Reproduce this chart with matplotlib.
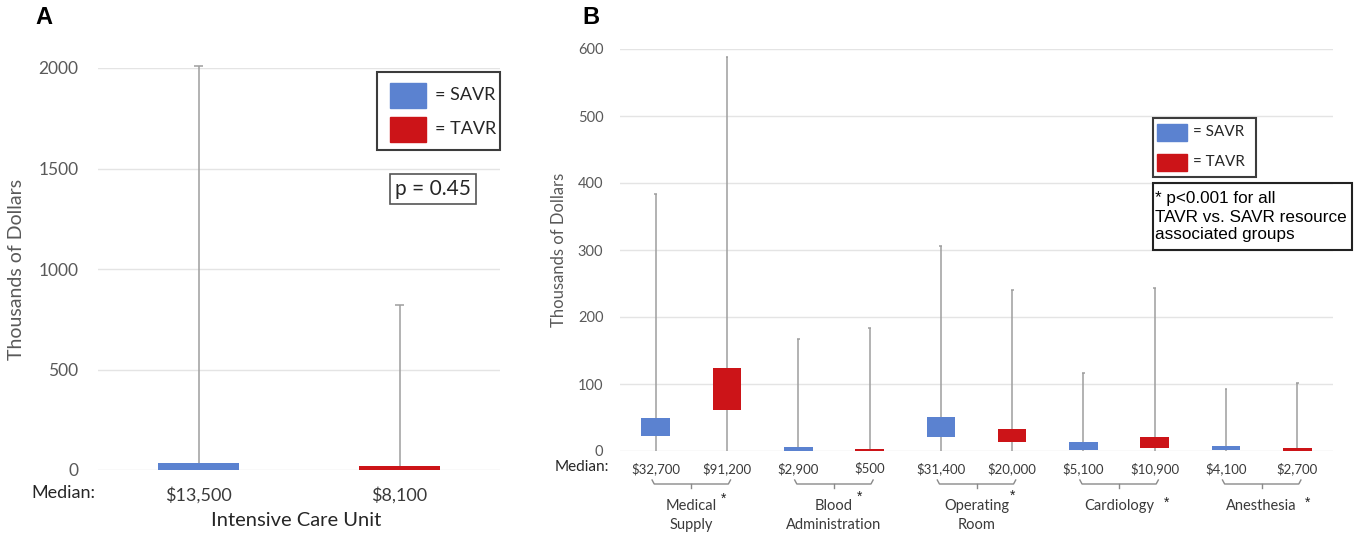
import matplotlib.pyplot as plt
from matplotlib.patches import Rectangle
from matplotlib.transforms import blended_transform_factory

# Panel A: intensive care unit
icu_groups = ["SAVR", "TAVR"]
icu_low = [0, 0]
icu_high = [33, 22]
icu_max = [2012, 822]
icu_medians = ["$13,500", "$8,100"]

# Panel B: resource associated groups
categories = ["Medical\nSupply", "Blood\nAdministration", "Operating\nRoom",
              "Cardiology", "Anesthesia"]
savr_low = [22, 0.5, 20.6, 1.5, 1.5]
savr_high = [49.4, 6, 50.5, 12.9, 7.2]
savr_max = [384, 167, 306, 116, 93]
tavr_low = [61, 0, 13.4, 4.6, 0.5]
tavr_high = [124.6, 2.5, 32.4, 21.6, 4.6]
tavr_max = [588, 184, 240, 244, 102]
savr_medians = ["$32,700", "$2,900", "$31,400", "$5,100", "$4,100"]
tavr_medians = ["$91,200", "$500", "$20,000", "$10,900", "$2,700"]

BLUE = "#5B82D0"
RED = "#CC1418"
WHISKER = "#9E9E9E"
GRID = "#E4E4E4"
TICK = "#595959"
CAL = ["Lato", "DejaVu Sans"]
ARIAL = ["Liberation Sans", "DejaVu Sans"]

W, H = 1366, 540
fig = plt.figure(figsize=(W / 100, H / 100), dpi=100)


def px(x, y):
    return x / W, 1 - y / H


def style_axes(ax, ymax, step, fs):
    ax.set_ylim(0, ymax)
    ax.set_yticks(range(0, ymax + 1, step))
    ax.grid(axis="y", color=GRID, lw=1)
    ax.set_axisbelow(True)
    for s in ax.spines.values():
        s.set_visible(False)
    ax.tick_params(axis="y", length=0, labelsize=fs, labelcolor=TICK, pad=14)
    ax.tick_params(axis="x", length=0, labelcolor="#3A3A3A")
    for t in ax.get_yticklabels():
        t.set_fontfamily(CAL)


def draw_box(ax, x, lo, hi, top, color):
    ax.vlines(x, 0, top, color=WHISKER, lw=1.1, zorder=2, clip_on=False)
    ax.hlines(top, x - 0.02, x + 0.02, color=WHISKER, lw=1.1, zorder=2, clip_on=False)
    ax.bar(x, hi - lo, bottom=lo, width=0.4, color=color, zorder=3, clip_on=False)


def legend_box(x0, y0, w, h, inset, gap, patch_w, patch_h, fs, rows):
    fig.patches.append(Rectangle(px(x0, y0 + h), w / W, h / H, transform=fig.transFigure,
                                 fill=False, ec="#3C3C3C", lw=1.5))
    for (py, color, label) in rows:
        fig.patches.append(Rectangle(px(x0 + inset, py + patch_h / 2), patch_w / W,
                                     patch_h / H, transform=fig.transFigure, color=color))
        fig.text(*px(x0 + inset + patch_w + gap, py), label, fontsize=fs, family=CAL,
                 color="#262626", va="center")


# ---- Panel A ----
axA = fig.add_axes([98 / W, 1 - 470 / H, 402 / W, 402 / H])
xa = list(range(len(icu_groups)))
for i, c in zip(xa, [BLUE, RED]):
    draw_box(axA, i, icu_low[i], icu_high[i], icu_max[i], c)
axA.set_xlim(-0.5, 1.5)
style_axes(axA, 2000, 500, 12.5)
axA.set_xticks(xa, icu_medians, fontsize=13, family=CAL)
axA.tick_params(axis="x", pad=12)
axA.set_ylabel("Thousands of Dollars", fontsize=14, family=CAL, color=TICK, labelpad=10)
fig.text(*px(63, 493), "Median:", fontsize=13, family=CAL, color="#262626",
         ha="center", va="center")
fig.text(*px(296, 521), "Intensive Care Unit", fontsize=14.5, family=CAL,
         color="#262626", ha="center", va="center")
fig.text(*px(35, 18), "A", fontsize=17, family=ARIAL, weight="bold", va="center")
legend_box(377, 72, 123, 78, 13, 9, 36, 25, 13,
           [(95, BLUE, "= SAVR"), (129, RED, "= TAVR")])
fig.text(*px(433, 189), "p = 0.45", fontsize=15, family=CAL, color="#262626",
         ha="center", va="center",
         bbox=dict(boxstyle="square,pad=0.25", fc="white", ec="#555555", lw=1.2))

# ---- Panel B ----
axB = fig.add_axes([620 / W, 1 - 451 / H, 713 / W, 402 / H])
xb_savr = [2 * i for i in range(len(categories))]
xb_tavr = [2 * i + 1 for i in range(len(categories))]
for i in range(len(categories)):
    draw_box(axB, xb_savr[i], savr_low[i], savr_high[i], savr_max[i], BLUE)
    draw_box(axB, xb_tavr[i], tavr_low[i], tavr_high[i], tavr_max[i], RED)
axB.set_xlim(-0.5, 9.5)
style_axes(axB, 600, 100, 10.5)
ticks = []
labels = []
for i in range(len(categories)):
    ticks += [xb_savr[i], xb_tavr[i]]
    labels += [savr_medians[i], tavr_medians[i]]
axB.set_xticks(ticks, labels, fontsize=9.5, family=CAL)
axB.tick_params(axis="x", pad=8)
axB.tick_params(axis="y", pad=12)
axB.set_ylabel("Thousands of Dollars", fontsize=12, family=CAL, color=TICK, labelpad=8)
fig.text(*px(582, 467), "Median:", fontsize=11, family=CAL, color="#262626",
         ha="center", va="center")
fig.text(*px(582, 18), "B", fontsize=17, family=ARIAL, weight="bold", va="center")

tr = blended_transform_factory(axB.transData, fig.transFigure)
star_offsets = [(0.45, 499), (0.36, 497), (0.5, 496), (0.66, 503), (0.64, 503)]
for i, cat in enumerate(categories):
    a, b = xb_savr[i], xb_tavr[i]
    mid = (a + b) / 2
    yb = [1 - v / H for v in (480, 484, 488)]
    axB.plot([a - 0.05, a - 0.02, b + 0.02, b + 0.05], [yb[0], yb[1], yb[1], yb[0]],
             transform=tr, color="#8A8A8A", lw=1, clip_on=False)
    axB.plot([mid, mid], [yb[1], yb[2]], transform=tr, color="#8A8A8A", lw=1, clip_on=False)
    for k, line in enumerate(cat.split("\n")):
        axB.text(mid, 1 - (506 + 19 * k) / H, line, transform=tr, fontsize=10.5,
                 family=CAL, color="#3A3A3A", ha="center", va="center")
    dx, sy = star_offsets[i]
    axB.text(mid + dx, 1 - sy / H, "*", transform=tr, fontsize=10, family=ARIAL,
             color="#222222", ha="center", va="center")

legend_box(1153, 118, 103, 59, 4, 6, 30, 17, 11,
           [(132, BLUE, "= SAVR"), (162, RED, "= TAVR")])
fig.patches.append(Rectangle(px(1153, 250), 199 / W, 67 / H, transform=fig.transFigure,
                             fill=False, ec="#222222", lw=1.5))
fig.text(*px(1155, 217), "* p<0.001 for all\nTAVR vs. SAVR resource\nassociated groups",
         fontsize=12.3, family=ARIAL, color="black", va="center", linespacing=1.25)

fig.savefig("out.png", dpi=100, facecolor="white")
